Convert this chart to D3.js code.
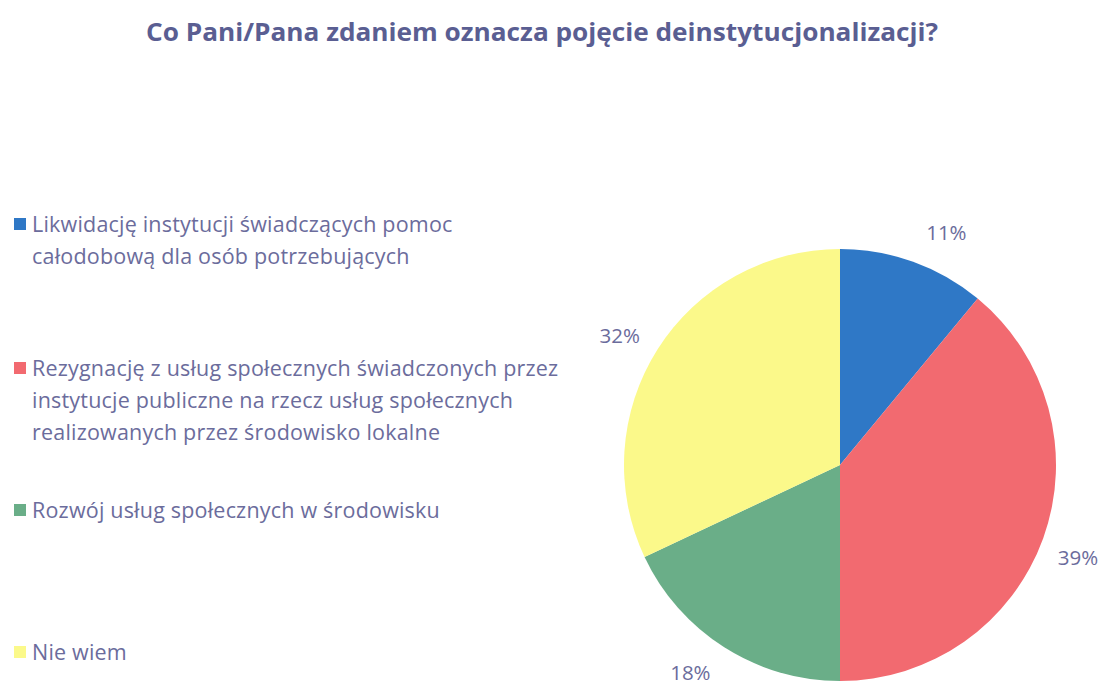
<!DOCTYPE html>
<html>
<head>
<meta charset="utf-8">
<script src="https://cdn.jsdelivr.net/npm/d3@7"></script>
<style>
  body { margin: 0; background: #fff; }
  text { font-family: "Open Sans", "Noto Sans", sans-serif; }
</style>
</head>
<body>
<div id="chart"></div>
<script>
// chart data
var categories = [
  "Likwidację instytucji świadczących pomoc|całodobową dla osób potrzebujących",
  "Rezygnację z usług społecznych świadczonych przez|instytucje publiczne na rzecz usług społecznych|realizowanych przez środowisko lokalne",
  "Rozwój usług społecznych w środowisku",
  "Nie wiem"
];
var values = [11, 39, 18, 32];
var labels = ["11%", "39%", "18%", "32%"];
var colors = ["#2f78c6", "#f26a70", "#6aae88", "#fbf98a"];

var svgWidth = 1107;
var svgHeight = 685;
var textColor = "#6b6c9c";

var svg = d3.select("#chart")
  .append("svg")
  .attr("width", svgWidth)
  .attr("height", svgHeight);

// title
svg.append("text")
  .attr("x", 542)
  .attr("y", 41)
  .attr("text-anchor", "middle")
  .attr("font-size", 25)
  .attr("font-weight", "bold")
  .attr("fill", "#5a5e92")
  .attr("textLength", 792)
  .attr("lengthAdjust", "spacingAndGlyphs")
  .text("Co Pani/Pana zdaniem oznacza pojęcie deinstytucjonalizacji?");

// pie
var cx = 840, cy = 465, radius = 216;
var pieGroup = svg.append("g")
  .attr("transform", `translate(${cx}, ${cy})`);

var pie = d3.pie().sort(null).value(d => d);
var arc = d3.arc().innerRadius(0).outerRadius(radius);
var labelArc = d3.arc().innerRadius(radius + 39).outerRadius(radius + 39);

var arcs = pie(values);

pieGroup.selectAll("path")
  .data(arcs)
  .enter()
  .append("path")
  .attr("d", arc)
  .attr("fill", (d, i) => colors[i]);

// percentage labels, nudged like the original
var labelOffsets = [[20, 8], [-2, 6], [-13, -7], [-5, 7]];
pieGroup.selectAll("text.pct")
  .data(arcs)
  .enter()
  .append("text")
  .attr("class", "pct")
  .attr("x", (d, i) => labelArc.centroid(d)[0] + labelOffsets[i][0])
  .attr("y", (d, i) => labelArc.centroid(d)[1] + labelOffsets[i][1])
  .attr("dy", "0.35em")
  .attr("text-anchor", "middle")
  .attr("font-size", 20.5)
  .attr("fill", textColor)
  .text((d, i) => labels[i]);

// legend
var legendY = [224, 368, 510, 652];
var legend = svg.selectAll("g.legend")
  .data(categories)
  .enter()
  .append("g")
  .attr("class", "legend")
  .attr("transform", (d, i) => `translate(14, ${legendY[i]})`);

legend.append("rect")
  .attr("x", 0)
  .attr("y", -6)
  .attr("width", 12)
  .attr("height", 12)
  .attr("fill", (d, i) => colors[i]);

legend.each(function(d) {
  var t = d3.select(this).append("text")
    .attr("x", 18)
    .attr("y", 0)
    .attr("font-size", 21.5)
    .attr("letter-spacing", 0.2)
    .attr("fill", textColor);
  d.split("|").forEach(function(line, j) {
    t.append("tspan")
      .attr("x", 18)
      .attr("dy", j === 0 ? "0.35em" : 32)
      .text(line);
  });
});
</script>
</body>
</html>
